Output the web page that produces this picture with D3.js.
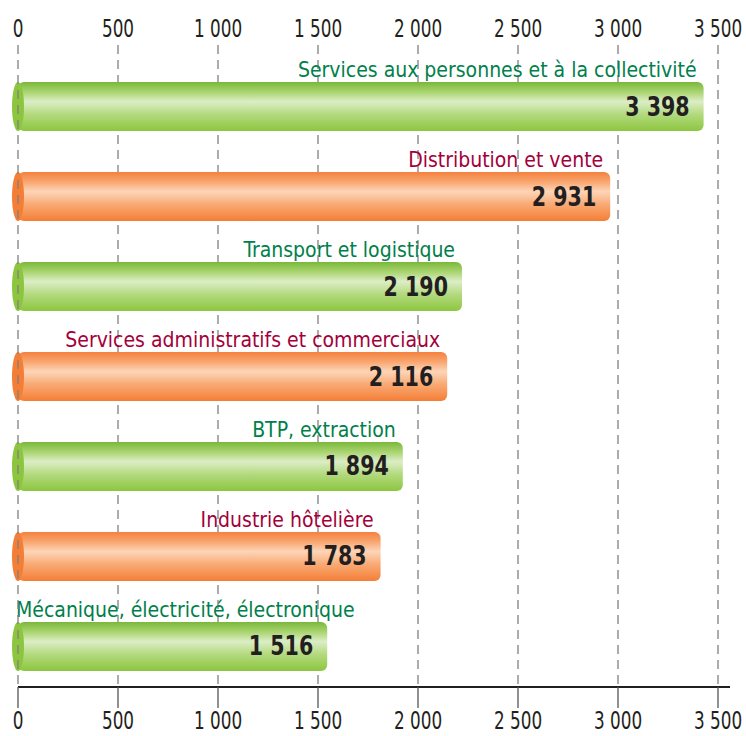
<!DOCTYPE html>
<html>
<head>
<meta charset="utf-8">
<script src="https://cdn.jsdelivr.net/npm/d3@7"></script>
<style>
  body { margin: 0; background: #fff; }
  svg { display: block; }
  text { font-family: "DejaVu Sans Condensed", "Liberation Sans Narrow", sans-serif; }
</style>
</head>
<body>
<svg id="chart" width="746" height="736"></svg>
<script>
const categories = [
    'Services aux personnes et à la collectivité',
    'Distribution et vente',
    'Transport et logistique',
    'Services administratifs et commerciaux',
    'BTP, extraction',
    'Industrie hôtelière',
    'Mécanique, électricité, électronique'
];
const values = [3398, 2931, 2190, 2116, 1894, 1783, 1516];
const tickValues = [0, 500, 1000, 1500, 2000, 2500, 3000, 3500];

const svg = d3.select('#chart');
const fmt = (v) => d3.format(',')(v).replace(/,/g, ' ');

const x = d3.scaleLinear().domain([0, 3500]).range([18, 718]);
const y = d3.scaleBand().domain(d3.range(categories.length)).range([82, 671]).paddingInner(0.455).paddingOuter(0);

const palette = [
    { id: 'gGreen', stops: ['#79b83a', '#a9d46f', '#dcedc6', '#b4da80', '#8cc63f'], cap: '#8cc63f', text: '#00804a' },
    { id: 'gOrange', stops: ['#f4813e', '#f8a670', '#fdd5b8', '#f9ab76', '#f47e36'], cap: '#f47e36', text: '#a3003a' }
];

const defs = svg.append('defs');
palette.forEach((p) => {
    const grad = defs.append('linearGradient')
        .attr('id', p.id)
        .attr('x1', 0).attr('y1', 0).attr('x2', 0).attr('y2', 1);
    [0, 0.2, 0.4, 0.65, 1].forEach((o, i) => {
        grad.append('stop').attr('offset', o).attr('stop-color', p.stops[i]);
    });
});

const axisY = 687;

// grid lines
svg.append('g')
    .selectAll('line')
    .data(tickValues.filter(d => d > 0))
    .enter()
    .append('line')
    .attr('x1', d => x(d)).attr('x2', d => x(d))
    .attr('y1', 45).attr('y2', axisY)
    .attr('stroke', '#808080')
    .attr('stroke-width', 1.3)
    .attr('stroke-dasharray', '9,6');

// bars
const bars = svg.append('g')
    .selectAll('g')
    .data(values)
    .enter()
    .append('g');

bars.append('rect')
    .attr('x', x(0))
    .attr('y', (d, i) => y(i))
    .attr('width', d => x(d) - x(0) + 6)
    .attr('height', y.bandwidth())
    .attr('rx', 6)
    .attr('fill', (d, i) => `url(#${palette[i % 2].id})`);

bars.append('ellipse')
    .attr('cx', x(0))
    .attr('cy', (d, i) => y(i) + y.bandwidth() / 2)
    .attr('rx', 6)
    .attr('ry', y.bandwidth() / 2)
    .attr('fill', (d, i) => palette[i % 2].cap);

bars.append('text')
    .attr('transform', (d, i) => `translate(${x(d) - 8},${y(i) + y.bandwidth() / 2 + 9}) scale(0.88,1)`)
    .attr('text-anchor', 'end')
    .attr('font-size', 26)
    .attr('font-weight', 'bold')
    .attr('fill', '#231f20')
    .text(d => fmt(d));

bars.append('text')
    .attr('y', (d, i) => y(i) - 5)
    .attr('font-size', 21)
    .attr('fill', (d, i) => palette[i % 2].text)
    .text((d, i) => categories[i])
    .each(function (d) {
        const w = this.getComputedTextLength();
        const end = x(d) - 1;
        if (end - w < 16) {
            d3.select(this).attr('x', 16).attr('text-anchor', 'start');
        } else {
            d3.select(this).attr('x', end).attr('text-anchor', 'end');
        }
    });

// zero line on top of the caps
svg.append('line')
    .attr('x1', x(0)).attr('x2', x(0))
    .attr('y1', 45).attr('y2', axisY)
    .attr('stroke', '#808080')
    .attr('stroke-width', 1.3)
    .attr('stroke-dasharray', '9,6');

// axis
svg.append('line')
    .attr('x1', x(0)).attr('x2', 730)
    .attr('y1', axisY).attr('y2', axisY)
    .attr('stroke', '#231f20')
    .attr('stroke-width', 2);

svg.append('g')
    .selectAll('line')
    .data(tickValues)
    .enter()
    .append('line')
    .attr('x1', d => x(d)).attr('x2', d => x(d))
    .attr('y1', axisY).attr('y2', 708)
    .attr('stroke', '#555')
    .attr('stroke-width', 1.3);

[37, 729].forEach((base) => {
    svg.append('g')
        .selectAll('text')
        .data(tickValues)
        .enter()
        .append('text')
        .attr('transform', d => `translate(${x(d)},${base}) scale(0.78,1)`)
        .attr('text-anchor', 'middle')
        .attr('font-size', 24)
        .attr('fill', '#231f20')
        .text(d => fmt(d));
});
</script>
</body>
</html>
